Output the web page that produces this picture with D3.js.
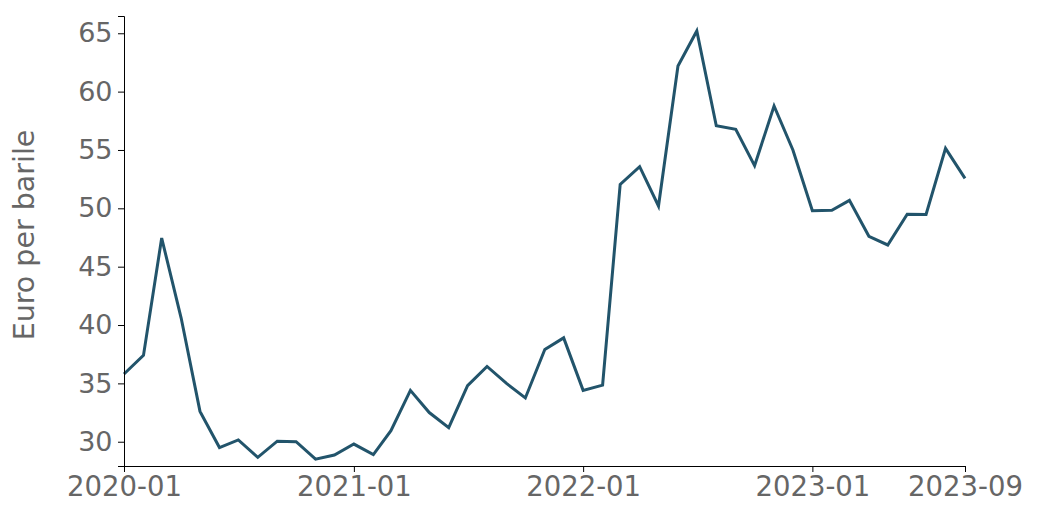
<!DOCTYPE html>
<html>
<head>
<meta charset="utf-8">
<script src="https://cdn.jsdelivr.net/npm/d3@7"></script>
<style>
  html, body { margin: 0; padding: 0; background: #fff; }
  svg { display: block; }
  .axis text { font-family: "DejaVu Sans", sans-serif; fill: #666; }
  .axis path, .axis line { stroke: #000; }
</style>
</head>
<body>
<svg id="chart" width="1046" height="525"></svg>
<script>
const months = [
  "2020-01","2020-02","2020-03","2020-04","2020-05","2020-06","2020-07","2020-08","2020-09","2020-10","2020-11","2020-12",
  "2021-01","2021-02","2021-03","2021-04","2021-05","2021-06","2021-07","2021-08","2021-09","2021-10","2021-11","2021-12",
  "2022-01","2022-02","2022-03","2022-04","2022-05","2022-06","2022-07","2022-08","2022-09","2022-10","2022-11","2022-12",
  "2023-01","2023-02","2023-03","2023-04","2023-05","2023-06","2023-07","2023-08","2023-09"
];
const values = [
  35.8, 37.4, 47.45, 40.6, 32.6, 29.5, 30.15, 28.66, 30.05, 30.0, 28.5, 28.86,
  29.8, 28.9, 30.95, 34.4, 32.5, 31.2, 34.8, 36.45, 35.0, 33.75, 37.9, 38.9,
  34.4, 34.85, 52.05, 53.57, 50.2, 62.2, 65.2, 57.08, 56.77, 53.65, 58.77, 55.0,
  49.8, 49.83, 50.68, 47.6, 46.86, 49.5, 49.48, 55.14, 52.57
];
const yTicks = [30, 35, 40, 45, 50, 55, 60, 65];
const xTickLabels = ["2020-01", "2021-01", "2022-01", "2023-01", "2023-09"];
const yDomain = [27.92, 66.48];
const yTitle = "Euro per barile";

const parse = d3.timeParse("%Y-%m");
const fmt = d3.timeFormat("%Y-%m");
const data = months.map((m, i) => ({ date: parse(m), value: values[i] }));

const svg = d3.select("#chart");
const mLeft = 124, mRight = 965, mTop = 16, mBottom = 466;

const x = d3.scaleTime()
  .domain([parse(months[0]), parse(months[months.length - 1])])
  .range([mLeft, mRight]);
const y = d3.scaleLinear().domain(yDomain).range([mBottom, mTop]);

const line = d3.line().x(d => x(d.date)).y(d => y(d.value));

svg.append("path")
  .datum(data)
  .attr("fill", "none")
  .attr("stroke", "#22546b")
  .attr("stroke-width", 3)
  .attr("stroke-linejoin", "miter")
  .attr("d", line);

const xAxis = svg.append("g")
  .attr("class", "axis")
  .attr("transform", `translate(0,${mBottom})`)
  .call(d3.axisBottom(x)
    .tickValues(xTickLabels.map(parse))
    .tickFormat(fmt)
    .tickSize(6)
    .tickSizeOuter(6)
    .tickPadding(4));
xAxis.selectAll("text").style("font-size", "27.5px");

const yAxis = svg.append("g")
  .attr("class", "axis")
  .attr("transform", `translate(${mLeft},0)`)
  .call(d3.axisLeft(y)
    .tickValues(yTicks)
    .tickSize(6)
    .tickSizeOuter(6)
    .tickPadding(5.5));
yAxis.selectAll("text").style("font-size", "27px");

svg.append("text")
  .attr("transform", `translate(34,235) rotate(-90)`)
  .attr("text-anchor", "middle")
  .style("font-family", "DejaVu Sans, sans-serif")
  .style("font-size", "28.5px")
  .style("fill", "#666")
  .text(yTitle);
</script>
</body>
</html>
